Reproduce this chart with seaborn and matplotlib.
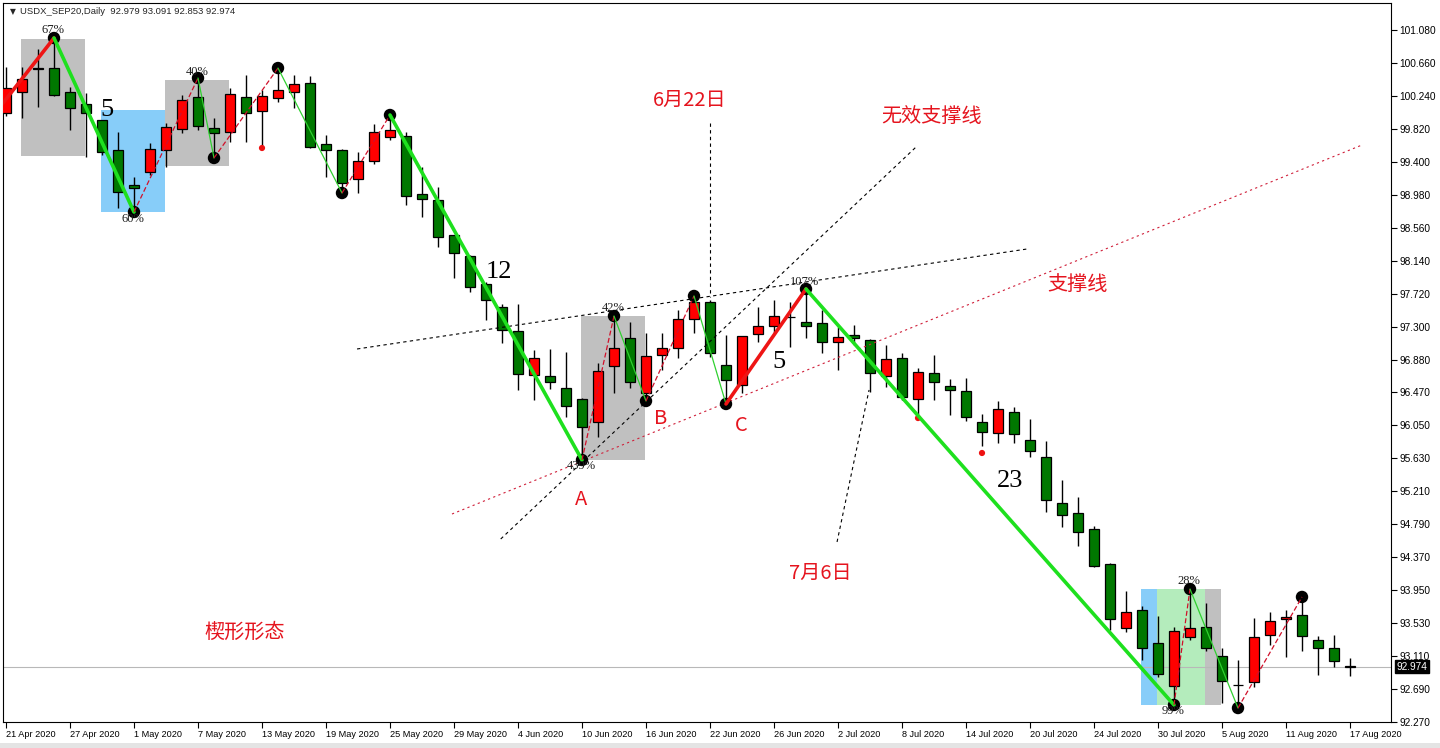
import numpy as np
import pandas as pd
import matplotlib
matplotlib.use("Agg")
import matplotlib.pyplot as plt
import seaborn as sns
from matplotlib.patches import Rectangle

# Daily USDX_SEP20 candles, 21 Apr - 17 Aug 2020
dates = pd.bdate_range("2020-04-21", "2020-08-17")

opens = [100.023, 100.291, 100.596, 100.596, 100.291, 100.138, 99.934, 99.552, 99.107, 99.272,
         99.552, 99.820, 100.227, 99.832, 99.782, 100.227, 100.049, 100.214, 100.291, 100.405,
         99.629, 99.552, 99.183, 99.412, 99.718, 99.731, 98.992, 98.916, 98.470, 98.203,
         97.846, 97.554, 97.248, 96.688, 96.675, 96.522, 96.382, 96.090, 96.803, 97.159,
         96.459, 96.943, 97.032, 97.401, 97.617, 96.815, 96.561, 97.210, 97.312, 97.426,
         97.363, 97.350, 97.108, 97.197, 97.134, 96.675, 96.904, 96.382, 96.713, 96.548,
         96.484, 96.090, 95.950, 96.217, 95.860, 95.644, 95.058, 94.931, 94.727, 94.282,
         93.467, 93.696, 93.276, 92.729, 93.352, 93.480, 93.110, 92.741, 92.779, 93.378,
         93.582, 93.632, 93.314, 93.212, 92.979]
highs = [100.609, 100.609, 100.838, 100.978, 100.354, 100.278, 99.940, 99.782, 99.209, 99.642,
         99.896, 100.253, 100.469, 99.960, 100.342, 100.507, 100.316, 100.596, 100.507, 100.494,
         99.743, 99.560, 99.527, 99.883, 99.998, 99.782, 99.336, 99.081, 98.475, 98.210,
         97.872, 97.592, 97.592, 97.006, 97.019, 96.981, 96.390, 96.841, 97.439, 97.363,
         97.223, 97.223, 97.515, 97.694, 97.643, 97.197, 97.190, 97.554, 97.643, 97.617,
         97.783, 97.515, 97.299, 97.324, 97.140, 97.070, 96.968, 96.777, 96.943, 96.637,
         96.650, 96.191, 96.357, 96.280, 96.128, 95.848, 95.351, 95.135, 94.766, 94.290,
         93.938, 93.747, 93.620, 93.480, 93.963, 93.785, 93.212, 93.060, 93.594, 93.671,
         93.696, 93.862, 93.365, 93.378, 93.091]
lows = [99.990, 99.960, 100.100, 100.240, 99.807, 99.463, 99.489, 98.814, 98.763, 99.234,
        99.336, 99.769, 99.807, 99.451, 99.654, 99.654, 99.591, 100.163, 100.087, 99.578,
        99.209, 99.005, 99.005, 99.374, 99.680, 98.852, 98.699, 98.317, 97.923, 97.745,
        97.388, 97.095, 96.497, 96.370, 96.510, 96.153, 95.606, 95.899, 96.459, 96.522,
        96.357, 96.752, 96.904, 97.223, 96.917, 96.319, 96.459, 97.108, 97.223, 97.044,
        97.159, 96.968, 96.752, 97.070, 96.471, 96.535, 96.370, 96.179, 96.370, 96.179,
        96.102, 95.784, 95.822, 95.822, 95.644, 94.944, 94.753, 94.511, 94.243, 93.442,
        93.416, 93.060, 92.843, 92.487, 93.314, 93.174, 92.512, 92.448, 92.716, 93.250,
        93.098, 93.174, 92.869, 92.970, 92.853]
closes = [100.342, 100.456, 100.590, 100.253, 100.087, 100.023, 99.527, 99.018, 99.069, 99.565,
          99.845, 100.189, 99.858, 99.769, 100.265, 100.023, 100.240, 100.316, 100.393, 99.591,
          99.552, 99.132, 99.412, 99.782, 99.807, 98.967, 98.929, 98.445, 98.241, 97.808,
          97.643, 97.261, 96.701, 96.904, 96.599, 96.293, 96.026, 96.739, 97.032, 96.599,
          96.930, 97.032, 97.401, 97.617, 96.968, 96.624, 97.184, 97.312, 97.439, 97.430,
          97.312, 97.108, 97.172, 97.159, 96.713, 96.892, 96.408, 96.726, 96.599, 96.497,
          96.153, 95.962, 96.255, 95.937, 95.720, 95.097, 94.906, 94.689, 94.256, 93.582,
          93.671, 93.212, 92.881, 93.429, 93.467, 93.212, 92.792, 92.745, 93.352, 93.556,
          93.607, 93.365, 93.212, 93.047, 92.974]

last_price = 92.974
price_ticks = [101.080, 100.660, 100.240, 99.820, 99.400, 98.980, 98.560, 98.140, 97.720, 97.300,
               96.880, 96.470, 96.050, 95.630, 95.210, 94.790, 94.370, 93.950, 93.530, 93.110,
               92.690, 92.270]

# zigzag pivots (bar index, price) and segment styles
zz_idx = [-0.5, 3, 8, 12, 13, 17, 21, 24, 36, 38, 40, 43, 45, 50, 73, 74, 77, 81]
zz_price = [100.07, 100.978, 98.763, 100.469, 99.451, 100.596, 99.005, 99.998, 95.606, 97.439,
            96.357, 97.694, 96.319, 97.783, 92.487, 93.963, 92.448, 93.862]
zz_style = ["thick_up", "thick_dn", "thin_up", "thin_dn", "thin_up", "thin_dn", "thin_up",
            "thick_dn", "thin_up", "thin_dn", "thin_up", "thin_dn", "thick_up", "thick_dn",
            "thin_up", "thin_dn", "thin_up"]

dot_idx = [16, 57, 61]
dot_price = [99.578, 96.140, 95.695]

# shaded zones
zone_start = [0.95, 5.95, 9.95, 35.95, 70.95, 71.95, 74.95]
zone_end = [4.95, 9.95, 13.95, 39.95, 71.95, 74.95, 75.95]
zone_low = [99.476, 98.763, 99.349, 95.606, 92.487, 92.487, 92.487]
zone_high = [100.966, 100.062, 100.444, 97.439, 93.963, 93.963, 93.963]
zone_color = ["#c0c0c0", "#87cdf9", "#c0c0c0", "#c0c0c0", "#87cdf9", "#b4ecbc", "#c0c0c0"]

# hand drawn lines
line_x0 = [21.94, 30.92, 27.875, 44.0, 51.94]
line_y0 = [97.019, 94.600, 94.918, 99.896, 94.562]
line_x1 = [63.81, 56.88, 84.75, 44.0, 53.94]
line_y1 = [98.292, 99.591, 99.616, 97.681, 96.497]
line_color = ["black", "black", "#d0203a", "black", "black"]

pct_text = ["67%", "60%", "40%", "42%", "439%", "107%", "28%", "99%"]
pct_idx = [2.94, 7.94, 11.94, 37.94, 35.94, 49.94, 73.94, 72.94]
pct_price = [101.08, 98.674, 100.545, 97.541, 95.529, 97.872, 94.067, 92.410]

count_text = ["5", "12", "5", "23"]
count_idx = [6.31, 30.81, 48.31, 62.75]
count_price = [100.062, 97.999, 96.853, 95.338]

note_text = ["6月22日", "无效支撑线", "支撑线", "7月6日", "楔形形态", "A", "B", "C"]
note_idx = [42.75, 57.875, 66.94, 50.875, 14.94, 35.94, 40.94, 45.94]
note_price = [100.189, 99.973, 97.846, 94.156, 93.405, 95.109, 96.128, 96.039]

df = pd.DataFrame({"date": dates, "open": opens, "high": highs, "low": lows, "close": closes})
df["x"] = np.arange(len(df))
body = df["close"] - df["open"]
df["fill"] = np.where(body.abs() < 0.008, "black", np.where(body > 0, "#ff0000", "#007800"))

sns.set_theme(style="white")
plt.rcParams["font.family"] = ["Liberation Sans", "DejaVu Sans"]

fig = plt.figure(figsize=(14.4, 7.48), dpi=100)
ax = fig.add_axes([3 / 1440, 26 / 748, 1388 / 1440, 719 / 748])

for x0, x1, lo, hi, c in zip(zone_start, zone_end, zone_low, zone_high, zone_color):
    ax.add_patch(Rectangle((x0, lo), x1 - x0, hi - lo, facecolor=c, edgecolor="none", zorder=1))

ax.axhline(last_price, color="#b8b8b8", lw=0.8, zorder=1.5)

ax.vlines(df["x"], df["low"], df["high"], color="black", lw=1.0, zorder=3)
ax.bar(df["x"], body, bottom=df["open"], width=0.64, color=df["fill"],
       edgecolor="black", linewidth=0.9, zorder=4)

for x0, y0, x1, y1, c in zip(line_x0, line_y0, line_x1, line_y1, line_color):
    ls = (0, (2, 3)) if c != "black" else (0, (3, 3))
    ax.plot([x0, x1], [y0, y1], color=c, lw=0.8, ls=ls, zorder=5)

styles = {
    "thick_up": dict(color="#ee1515", lw=2.6, ls="-"),
    "thick_dn": dict(color="#1ee01e", lw=2.6, ls="-"),
    "thin_up": dict(color="#d0102a", lw=0.9, ls=(0, (4, 2))),
    "thin_dn": dict(color="#30d030", lw=0.9, ls="-"),
}

sns.scatterplot(x=zz_idx[1:], y=zz_price[1:], color="black", s=80, edgecolor="none",
                zorder=6, legend=False, ax=ax)
for i, st in enumerate(zz_style):
    ax.plot(zz_idx[i:i + 2], zz_price[i:i + 2], zorder=7, solid_capstyle="round", **styles[st])

sns.scatterplot(x=dot_idx, y=dot_price, color="#ee1111", s=20, edgecolor="none",
                zorder=6, legend=False, ax=ax)

for t, x, y in zip(pct_text, pct_idx, pct_price):
    ax.text(x, y, t, family="Liberation Serif", fontsize=9, color="#202020",
            ha="center", va="center", zorder=8)
for t, x, y in zip(count_text, count_idx, count_price):
    ax.text(x, y, t, family="Liberation Serif", fontsize=19, color="black",
            ha="center", va="center", zorder=8)
for t, x, y in zip(note_text, note_idx, note_price):
    ax.text(x, y, t, family=["Noto Sans CJK SC", "DejaVu Sans"], fontsize=14.5,
            color="#e5141e", ha="center", va="center", zorder=8)

ax.set_xlim(-0.1875, 86.5625)
ax.set_ylim(92.270, 101.424)

ax.yaxis.tick_right()
ax.set_yticks(price_ticks)
ax.set_yticklabels([f"{v:.3f}" for v in price_ticks])
ax.tick_params(axis="y", direction="out", length=4, width=0.8, labelsize=7.3, pad=2,
               right=True, left=False, color="black", labelcolor="black")

tick_pos = df["x"][::4]
ax.set_xticks(tick_pos)
ax.set_xticklabels([f"{d.day} {d.strftime('%b %Y')}" for d in df["date"][::4]])
ax.tick_params(axis="x", direction="out", length=4, width=0.8, labelsize=6.6, pad=2,
               bottom=True, color="black", labelcolor="black")
for lab in ax.get_xticklabels():
    lab.set_ha("left")

for s in ax.spines.values():
    s.set_color("black")
    s.set_linewidth(0.8)
ax.grid(False)

ax.annotate(f"{last_price:.3f}", xy=(1, last_price), xycoords=("axes fraction", "data"),
            xytext=(4, 0), textcoords="offset points", ha="left", va="center",
            fontsize=7.3, color="white",
            bbox=dict(boxstyle="square,pad=0.15", fc="black", ec="black"))

fig.text(10 / 1440, 1 - 12 / 748, "▼", fontsize=5.5, ha="left", va="center",
         family=["DejaVu Sans"])
fig.text(20 / 1440, 1 - 12 / 748, "USDX_SEP20,Daily  92.979 93.091 92.853 92.974",
         fontsize=6.8, ha="left", va="center")

fig.patches.append(Rectangle((0, 0), 1, 5 / 748, transform=fig.transFigure,
                             facecolor="#e4e4e4", edgecolor="none"))

fig.savefig("out.png", dpi=100)
